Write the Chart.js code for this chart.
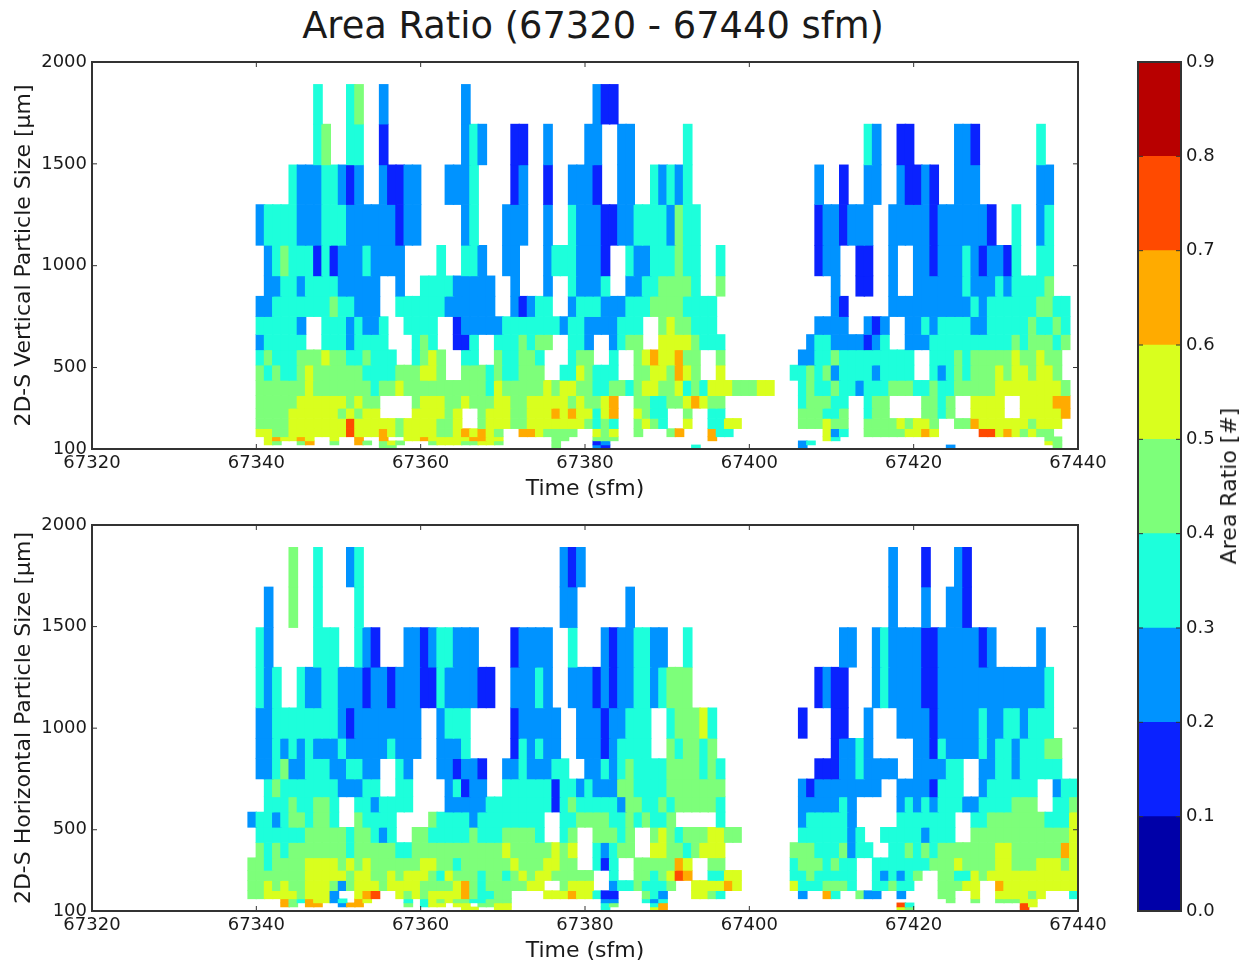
<!DOCTYPE html>
<html>
<head>
<meta charset="utf-8">
<title>Area Ratio</title>
<script src="https://cdn.jsdelivr.net/npm/chart.js@4"></script>
<style>
    html, body { margin: 0; padding: 0; background: #fff; overflow: hidden; }
    body { width: 1250px; height: 967px; position: relative; font-family: "DejaVu Sans", sans-serif; color: #1a1a1a; }
    .box { position: absolute; }
    #title { left: 0; width: 1186px; top: 3px; text-align: center; font-size: 36.8px; line-height: 46px; white-space: nowrap; }
    #barLabel { left: 1229px; top: 486px; font-size: 22px; line-height: 26px; white-space: nowrap; transform: translate(-50%, -50%) rotate(-90deg); }
</style>
</head>
<body>
<div class="box" id="title">Area Ratio (67320 - 67440 sfm)</div>
<div class="box" style="left:0;top:42px;width:1120px;height:463px"><canvas id="vertical-chart" width="1120" height="463"></canvas></div>
<div class="box" style="left:0;top:505px;width:1120px;height:462px"><canvas id="horizontal-chart" width="1120" height="462"></canvas></div>
<div class="box" style="left:1100px;top:42px;width:150px;height:925px"><canvas id="colorbar-chart" width="150" height="925"></canvas></div>
<div class="box" id="barLabel">Area Ratio [#]</div>

<script>
// contour levels and their colours
const levelEdges = [0, 0.1, 0.2, 0.3, 0.4, 0.5, 0.6, 0.7, 0.8, 0.9];
const levelColors = ['#0000a8', '#0a22ff', '#0093ff', '#1dffdb', '#7dff7a', '#d9ff1e', '#ffab00', '#ff4a00', '#b80000'];

const timeTicks = [67320, 67340, 67360, 67380, 67400, 67420, 67440];
const sizeTicks = [100, 500, 1000, 1500, 2000];
const barTicks = [0, 0.1, 0.2, 0.3, 0.4, 0.5, 0.6, 0.7, 0.8, 0.9];

// size bin edges (um), top row first
const sizeEdges = [1890, 1695, 1495, 1300, 1100, 950, 850, 750, 662, 587, 512, 437, 362, 300, 250, 200, 160, 140, 120, 100];

// one string per size row. "offset:digits", offset = seconds after 67340,
// each digit is the level the cell falls in (3 = 0.3 to 0.4), gaps have no data
const verticalRows = [
    '7:3 11:34 15:2 25:2 41:211',
    '7:34 11:33 15:1 25:232 31:11 35:2 40:22 44:22 52:3 74:32 78:11 85:221 95:3',
    '4:322233212 15:21122 23:2223 31:12 35:1 38:2221 44:22 48:32323 68:2 71:1 74:22 78:21121 85:222 95:22',
    '0:23333222333222222122 25:23 30:222 35:2 38:3222112233332433 68:1221222 77:2222212222221 92:3 95:23',
    '1:23433313122232222 22:3 25:332 30:22 35:23332221 45:322333433 56:3 68:122 73:11 77:2 80:2212223212213 95:33',
    '1:22332333322222 17:2 20:333322222 31:2 35:2 38:32223 45:223344443 56:4 70:2 73:11 77:2 80:22222232223233334',
    '0:223333333433222 17:333333222222 31:21233 38:233322233344443333 70:21 77:2222222222323333334433',
    '0:333332 8:33323223 18:3333 24:12222233333332332222333 49:4544333 68:2222 74:212 79:22323333223333343343',
    '0:233333 8:33323333 19:343 24:113 29:3334344 38:332 43:2344 49:55554333 67:2332222123 79:22233333333334344434',
    '0:34333444544334333 19:3454 25:33 29:433443 38:344 43:3 46:45655644 56:4 66:22334333333333 82:3334344444544544',
    '0:43433454444443333444554 25:4443433444 37:3354333 46:44554654 56:5 65:334342333323333 82:3234344454554554',
    '0:444444544444443445444444444435444445455443344345544534355544455 66:343343323334443343344444555555554',
    '0:444445555554544 19:45554454445544 33:55555454456 46:44334456544 66:344433 74:344 81:4434 87:5555 93:555566',
    '0:444455555545455 19:555545 27:45554455565655356 46:5433 52:4 55:33 66:444334 74:344 81:4434 87:5555 93:555556',
    '0:4444555555575555545555445 27:45554455555554343 46:4543 52:5 55:3355 66:444544 74:444454554 85:4465555554555',
    '0:554455555557555654555544565654 32:6 33:654444 41:545 46:4 50:46 55:633 69:523 74:444445565 88:775654544',
    '1:565565 9:5 12:6 15:6 18:556555556655 36:44 41:444 55:6 69:53 96:44',
    '1:54 5:46 9:4 12:64 15:454 21:455544554 36:4 41:12 66:23 96:54',
    '15:44 36:4 41:21 53:3 66:2 84:2 97:4'
];

const horizontalRows = [
    '4:4 7:3 11:23 37:212 77:2 81:1 85:21',
    '1:2 4:4 7:3 12:3 37:22 45:2 77:2 81:2 84:221',
    '0:32 7:333 12:321 18:221233222 31:12222 38:3 42:21223322 52:3 71:22 75:232222112222212 95:2',
    '0:323 5:322332221221222113222211 31:22232 38:222121223323444 68:1211 75:2322221122222222222223',
    '0:22333333332122222222 22:2333 31:122222 39:222122333 50:344453 66:1 70:11 74:2 78:2222122222322332333',
    '0:22323232223222223222 22:2223 31:132322 39:222123333 50:434434 70:12232 80:221322223233233344',
    '0:223422333223322 17:32 22:221221 30:22322233 40:22323433334444343 68:1112232222 80:222233 88:2233233333',
    '1:34333333322233 17:33 23:23122 30:333333133232224433334444444 66:2122222222 78:22221333 88:2333333 97:233',
    '1:333433443 12:3323333 23:222223333333313433333244334344444 56:3 66:2222232 78:23232333223333444 97:334',
    '-1:23323443443 12:43333 21:43333233333333 37:33444433434334 56:3 66:2333332 78:3333333 87:3344444443335',
    '0:33333344444344323 19:4433333433344443 37:34 41:44434 48:45434445544 66:33333323 76:333332333 87:4444444444445',
    '0:434344444443444443344444444444544444545 41:32344 48:554434555 65:4443334233 77:33434344444445544444465',
    '-1:4434444555545454444445544344444454 33:445544 41:313 46:4444465 55:44 65:34443433 75:3333333444544445544455545',
    '-1:4444444555554554454555435444344345 33:45544444 43:3 46:4434576 55:3355 65:33433333 75:323234 83:44335455555555555',
    '-1:4454544555424555455554444564344444 33:55 37:4555 43:23343334 53:555565 65:53334443 75:33433 83:44455 90:6555555555',
    '-1:44555545552 12:567 17:54545555643344 35:555655311 47:432 53:5543 66:2 69:63 73:422 78:2 83:44 87:5 90:555545 99:3',
    '3:64365523 12:65 18:3 20:35454433444 42:22 47:323 84:4 87:4 90:44455',
    '3:64 6:66 10:266 18:4 20:355 24:55 27:4455 42:34 48:36 78:73 93:75',
    '25:55 29:55 42:3 48:56 78:54 93:7'
];

// turn a row string into floating bars
const rowToBars = (row, rowIndex) => {
    const bars = [];
    row.trim().split(/\s+/).forEach(segment => {
        const [offset, digits] = segment.split(':');
        [...digits].forEach((digit, i) => {
            bars.push({
                x: 67340 + Number(offset) + i + 0.5,
                y: [sizeEdges[rowIndex + 1], sizeEdges[rowIndex]],
                level: Number(digit)
            });
        });
    });
    return bars;
};

const darkText = '#1a1a1a';
const frameColor = '#333333';

// matplotlib style box with the ticks pointing inwards
const framePlugin = {
    id: 'frame',
    afterDraw(chart) {
        const { ctx, chartArea: a, scales } = chart;
        ctx.save();
        ctx.strokeStyle = frameColor;
        ctx.lineWidth = 1;
        ctx.beginPath();
        if (scales.x && scales.x.options.display !== false) {
            scales.x.ticks.forEach(t => {
                const px = scales.x.getPixelForValue(t.value);
                ctx.moveTo(px, a.bottom); ctx.lineTo(px, a.bottom - 5);
                ctx.moveTo(px, a.top); ctx.lineTo(px, a.top + 5);
            });
        }
        scales.y.ticks.forEach(t => {
            const py = scales.y.getPixelForValue(t.value);
            ctx.moveTo(a.left, py); ctx.lineTo(a.left + 5, py);
            ctx.moveTo(a.right, py); ctx.lineTo(a.right - 5, py);
        });
        ctx.stroke();
        ctx.lineWidth = 2;
        ctx.strokeRect(a.left, a.top, a.right - a.left, a.bottom - a.top);
        ctx.restore();
    }
};

const renderPanel = (canvasId, yTitle, rows) => {
    new Chart(document.getElementById(canvasId), {
        type: 'bar',
        data: {
            datasets: rows.map((row, i) => {
                const bars = rowToBars(row, i);
                return {
                    data: bars,
                    backgroundColor: bars.map(b => levelColors[b.level]),
                    borderWidth: 0,
                    barThickness: 9,
                    grouped: false
                };
            })
        },
        options: {
            responsive: false,
            animation: false,
            layout: { padding: { top: 20, right: 42, left: 0, bottom: 0 } },
            plugins: { legend: { display: false }, tooltip: { enabled: false } },
            scales: {
                x: {
                    type: 'linear',
                    min: 67320,
                    max: 67440,
                    offset: false,
                    grid: { display: false, drawTicks: false, offset: false },
                    border: { display: false },
                    afterBuildTicks: scale => { scale.ticks = timeTicks.map(value => ({ value })); },
                    afterFit: scale => { scale.height = 56; },
                    ticks: {
                        autoSkip: false,
                        maxRotation: 0,
                        padding: 4,
                        color: darkText,
                        font: { family: 'DejaVu Sans', size: 18 },
                        callback: value => String(value)
                    },
                    title: {
                        display: true,
                        text: 'Time (sfm)',
                        color: darkText,
                        font: { family: 'DejaVu Sans', size: 22 },
                        padding: { top: 0, bottom: 3 }
                    }
                },
                y: {
                    min: 100,
                    max: 2000,
                    grid: { display: false, drawTicks: false },
                    border: { display: false },
                    afterBuildTicks: scale => { scale.ticks = sizeTicks.map(value => ({ value })); },
                    afterFit: scale => { scale.width = 92; },
                    ticks: {
                        autoSkip: false,
                        padding: 5,
                        color: darkText,
                        font: { family: 'DejaVu Sans', size: 18 },
                        callback: value => String(value)
                    },
                    title: {
                        display: true,
                        text: yTitle,
                        color: darkText,
                        font: { family: 'DejaVu Sans', size: 22 },
                        padding: { top: 11, bottom: 0 }
                    }
                }
            }
        },
        plugins: [framePlugin]
    });
};

const renderColorbar = () => {
    new Chart(document.getElementById('colorbar-chart'), {
        type: 'bar',
        data: {
            labels: ['Area Ratio'],
            datasets: levelColors.map((color, i) => ({
                data: [[levelEdges[i], levelEdges[i + 1]]],
                backgroundColor: color,
                borderWidth: 0,
                grouped: false,
                barPercentage: 1,
                categoryPercentage: 1
            }))
        },
        options: {
            responsive: false,
            animation: false,
            layout: { padding: { top: 20, left: 38, right: 0, bottom: 56 } },
            plugins: { legend: { display: false }, tooltip: { enabled: false } },
            scales: {
                x: { display: false },
                y: {
                    position: 'right',
                    min: 0,
                    max: 0.9,
                    grid: { display: false, drawTicks: false },
                    border: { display: false },
                    afterBuildTicks: scale => { scale.ticks = barTicks.map(value => ({ value })); },
                    afterFit: scale => { scale.width = 69; },
                    ticks: {
                        autoSkip: false,
                        padding: 5,
                        color: darkText,
                        font: { family: 'DejaVu Sans', size: 18 },
                        callback: value => value.toFixed(1)
                    }
                }
            }
        },
        plugins: [framePlugin]
    });
};

renderPanel('vertical-chart', '2D-S Vertical Particle Size [\u03bcm]', verticalRows);
renderPanel('horizontal-chart', '2D-S Horizontal Particle Size [\u03bcm]', horizontalRows);
renderColorbar();
</script>
</body>
</html>
